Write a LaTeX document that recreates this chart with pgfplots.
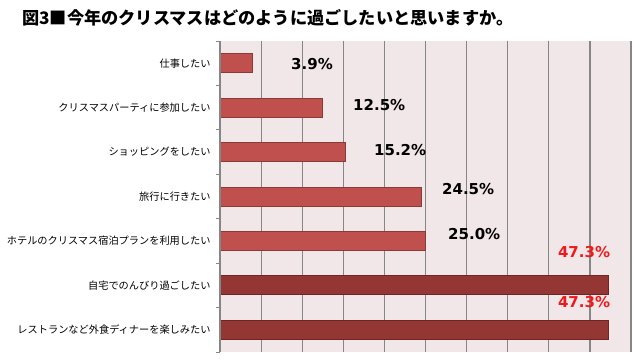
\documentclass[border=0pt]{standalone}
\usepackage{pgfplots}
\pgfplotsset{compat=1.18}
\usepackage{fontspec}
\setmainfont{DejaVu Sans}
\newfontfamily\jp{Noto Sans CJK JP}
\newfontfamily\lab{DejaVu Sans}
\definecolor{barlight}{HTML}{C0504D}
\definecolor{barlightedge}{HTML}{8C3A38}
\definecolor{bardark}{HTML}{943634}
\definecolor{bardarkedge}{HTML}{6E2523}
\definecolor{bgpink}{HTML}{F2E7E8}
\definecolor{gridgray}{HTML}{868686}
\definecolor{labred}{HTML}{F01818}
\begin{document}
\begin{tikzpicture}[x=1bp,y=1bp]
\useasboundingbox (0,0) rectangle (640,363);
\node[anchor=west, inner sep=0pt] at (22,345) {\jp\bfseries\fontsize{17.2bp}{19bp}\selectfont 図3■今年のクリスマスはどのように過ごしたいと思いますか。};
\begin{axis}[
  at={(220bp,11bp)}, anchor=south west,
  width=411bp, height=311bp, scale only axis,
  xmin=0, xmax=50,
  ymin=-0.5, ymax=6.5,
  y dir=reverse,
  xtick={0,5,...,50}, xticklabels={},
  xmajorgrids, grid style={gridgray, line width=1.2bp},
  major x tick style={draw=none},
  ytick={0,...,6},
  yticklabels={仕事したい,クリスマスパーティに参加したい,ショッピングをしたい,旅行に行きたい,ホテルのクリスマス宿泊プランを利用したい,自宅でのんびり過ごしたい,レストランなど外食ディナーを楽しみたい},
  major y tick style={draw=none},
  minor ytick={-0.5,0.5,...,6.5},
  minor y tick style={gridgray, line width=1bp},
  minor tick length=4bp,
  tick align=outside,
  ytick pos=left,
  yticklabel style={font=\jp\fontsize{10.2bp}{12bp}\selectfont, inner sep=0pt, anchor=east, xshift=-5bp},
  axis line style={draw=none},
  axis background/.style={fill=bgpink},
  clip=false,
]
\addplot[xbar, bar shift=0pt, bar width=19bp, fill=barlight, draw=barlightedge, line width=0.8bp]
  coordinates {(3.9,0) (12.5,1) (15.2,2) (24.5,3) (25.0,4)};
\addplot[xbar, bar shift=0pt, bar width=19bp, fill=bardark, draw=bardarkedge, line width=0.8bp]
  coordinates {(47.3,5) (47.3,6)};
\draw[gridgray, line width=1.2bp] (rel axis cs:0,0) -- (rel axis cs:0,1);
\begin{scope}[every node/.style={anchor=west, inner sep=0pt, font=\lab\bfseries\fontsize{15bp}{17bp}\selectfont}]
\node at (axis cs:8.64,0.02) {3.9\%};
\node at (axis cs:16.18,0.94) {12.5\%};
\node at (axis cs:18.73,1.955) {15.2\%};
\node at (axis cs:27.0,2.84) {24.5\%};
\node at (axis cs:27.74,3.84) {25.0\%};
\node[text=labred] at (axis cs:41.1,4.24) {47.3\%};
\node[text=labred] at (axis cs:41.1,5.38) {47.3\%};
\end{scope}
\end{axis}
\end{tikzpicture}
\end{document}
